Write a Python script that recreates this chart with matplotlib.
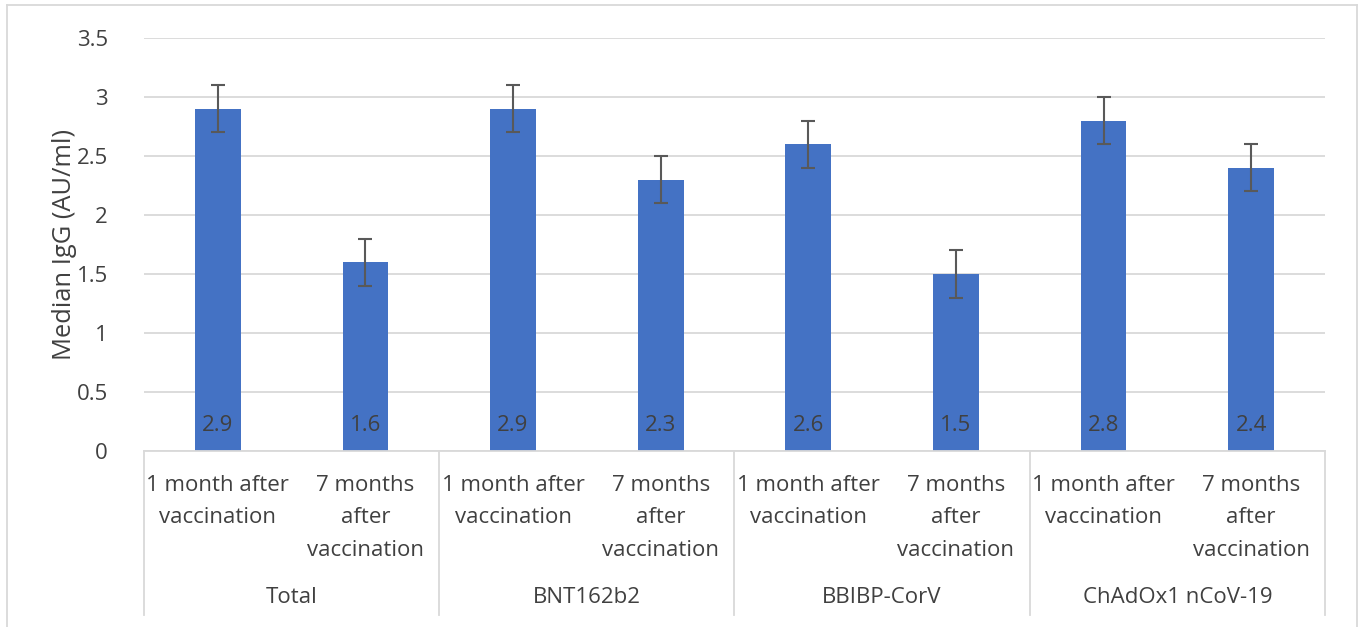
import numpy as np
import matplotlib.pyplot as plt
import matplotlib.transforms as mtransforms
from matplotlib.lines import Line2D

# ---- data ----
groups = ["Total", "BNT162b2", "BBIBP-CorV", "ChAdOx1 nCoV-19"]
periods = ["1 month after\nvaccination", "7 months\nafter\nvaccination"]
medians = [2.9, 1.6, 2.9, 2.3, 2.6, 1.5, 2.8, 2.4]
errors = [0.2, 0.2, 0.2, 0.2, 0.2, 0.2, 0.2, 0.2]

plt.rcParams['font.family'] = ['Open Sans', 'DejaVu Sans']
txt_col = '#404040'
fs = 16

fig = plt.figure(figsize=(13.62, 6.27), dpi=100)
ax = fig.add_axes([0.1057, 0.2807, 0.8671, 0.6587])

x = np.arange(len(medians))
ax.bar(x, medians, width=0.31, color='#4472C4', zorder=2)
ax.errorbar(x, medians, yerr=errors, fmt='none', ecolor='#595959',
            elinewidth=1.5, capsize=4.8, capthick=1.5, zorder=3)

# data labels near the base of the bars
for xi, v in zip(x, medians):
    ax.text(xi, 0.22, f"{v}", ha='center', va='center', fontsize=fs, color=txt_col, zorder=4)

ax.set_xlim(-0.5, len(medians) - 0.5)
ax.set_ylim(0, 3.5)
ax.set_yticks(np.arange(0, 3.51, 0.5))
ax.set_yticklabels(["0", "0.5", "1", "1.5", "2", "2.5", "3", "3.5"])
ax.tick_params(axis='y', length=0, pad=26, labelsize=fs, labelcolor=txt_col)
ax.set_xticks([])
ax.grid(axis='y', color='#D9D9D9', linewidth=1.3, zorder=0)
for s in ['top', 'right', 'left']:
    ax.spines[s].set_visible(False)
ax.spines['bottom'].set_color('#D9D9D9')
ax.spines['bottom'].set_linewidth(1.3)

ax.set_ylabel("Median IgG (AU/ml)", fontsize=18.4, color=txt_col, labelpad=0)

# multi-level category axis
trans = mtransforms.blended_transform_factory(ax.transData, ax.transAxes)
for i, xi in enumerate(x):
    ax.text(xi, -0.058, periods[i % 2], transform=trans, ha='center', va='top',
            fontsize=fs, color=txt_col, linespacing=1.72, clip_on=False)
for g, name in enumerate(groups):
    ax.text(2 * g + 0.5, -0.355, name, transform=trans, ha='center', va='center',
            fontsize=fs, color=txt_col, clip_on=False)
for b in np.arange(-0.5, len(medians), 2):
    ax.plot([b, b], [0, -0.397], transform=trans, color='#D9D9D9', linewidth=1.3, clip_on=False)

# chart border
for xs, ys in [([0.0051, 0.0051], [0.0, 0.992]), ([0.9963, 0.9963], [0.0, 0.992]),
               ([0.0051, 0.9963], [0.992, 0.992])]:
    fig.add_artist(Line2D(xs, ys, transform=fig.transFigure, color='#D9D9D9', linewidth=1.3))

fig.savefig("out.png", dpi=100)
